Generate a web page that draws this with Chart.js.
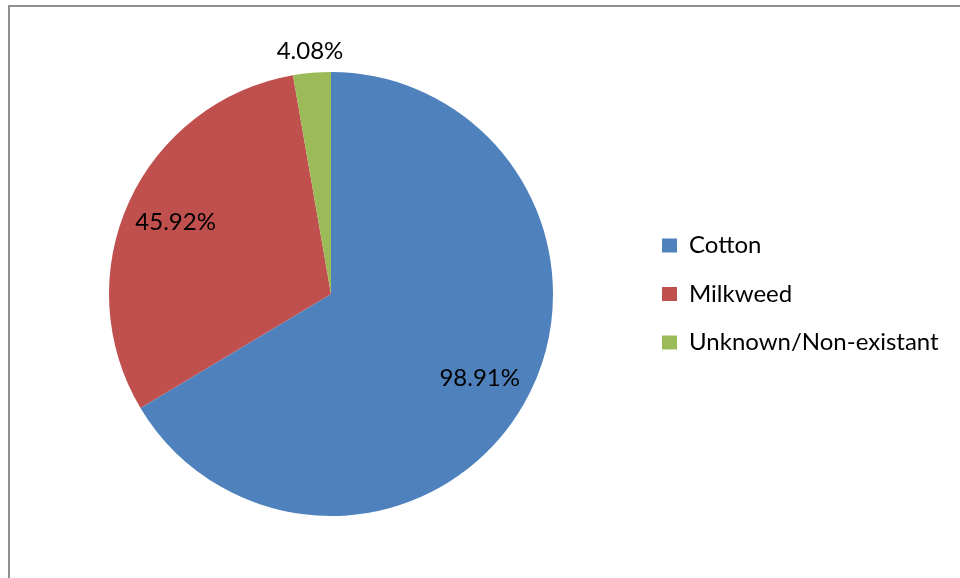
<!DOCTYPE html>
<html>
<head>
<meta charset="utf-8">
<script src="https://cdn.jsdelivr.net/npm/chart.js@4"></script>
<style>
  html, body { margin: 0; padding: 0; background: #fff; }
  #wrap { position: relative; width: 960px; height: 578px; }
</style>
</head>
<body>
<div id="wrap"><canvas id="pieChart" width="960" height="578"></canvas></div>
<script>
// Chart data
const categories = ['Cotton', 'Milkweed', 'Unknown/Non-existant'];
const percentValues = [98.91, 45.92, 4.08];
const sliceColors = ['#4F81BD', '#C0504D', '#9BBB59'];

const FONT = 'Lato';
const FONT_SIZE = 24;
const LEGEND_PAD = 24.5;

/* Draws the grey frame line along the top and left edges */
const framePlugin = {
    id: 'frame',
    beforeDraw: (chart) => {
        const ctx = chart.ctx;
        ctx.save();
        ctx.fillStyle = '#8f8f8f';
        ctx.fillRect(8, 5, 960, 2);
        ctx.fillRect(8, 5, 2, 578);
        ctx.restore();
    }
};

/* Writes the percent labels on (or just outside) each slice */
const sliceLabelPlugin = {
    id: 'sliceLabels',
    afterDatasetsDraw: (chart) => {
        const ctx = chart.ctx;
        const meta = chart.getDatasetMeta(0);
        const total = percentValues.reduce((a, b) => a + b, 0);
        ctx.save();
        ctx.font = FONT_SIZE + 'px ' + FONT;
        ctx.fillStyle = '#000';
        ctx.textAlign = 'center';
        ctx.textBaseline = 'middle';
        meta.data.forEach((arc, i) => {
            const p = arc.getProps(['x', 'y', 'startAngle', 'endAngle', 'outerRadius'], true);
            const mid = (p.startAngle + p.endAngle) / 2;
            let r;
            // Small slices get their label outside the pie
            if (percentValues[i] / total < 0.05) {
                r = p.outerRadius + 22;
            } else {
                r = p.outerRadius * 0.77;
            }
            const x = p.x + Math.cos(mid) * r;
            const y = p.y + Math.sin(mid) * r;
            ctx.fillText(percentValues[i].toFixed(2) + '%', x, y);
        });
        ctx.restore();
    }
};

const buildPieChart = () => {

    // Measure the longest legend label so the legend lands where it should
    const ctx = document.getElementById('pieChart').getContext('2d');
    ctx.font = FONT_SIZE + 'px ' + FONT;
    let maxText = 0;
    categories.forEach((c) => {
        maxText = Math.max(maxText, ctx.measureText(c).width);
    });
    const boxW = 15;
    const legendLeft = 662 - LEGEND_PAD;
    const legendWidth = LEGEND_PAD + boxW + FONT_SIZE / 2 + maxText;
    const padRight = 960 - legendLeft - legendWidth - 10;
    const pieCenterX = 331;
    const padLeft = 2 * pieCenterX - legendLeft;

    const data = {
        labels: categories,
        datasets: [{
            data: percentValues,
            backgroundColor: sliceColors,
            borderWidth: 0
        }]
    };

    const config = {
        type: 'pie',
        data: data,
        options: {
            responsive: false,
            animation: false,
            layout: {
                padding: { left: padLeft, right: padRight, top: 72, bottom: 62 }
            },
            plugins: {
                tooltip: { enabled: false },
                legend: {
                    position: 'right',
                    align: 'center',
                    labels: {
                        boxWidth: boxW,
                        boxHeight: 14,
                        padding: LEGEND_PAD,
                        color: '#000',
                        font: { family: FONT, size: FONT_SIZE }
                    }
                }
            }
        },
        plugins: [framePlugin, sliceLabelPlugin]
    };

    new Chart(ctx, config);
}

document.addEventListener("DOMContentLoaded", () => {
    buildPieChart();
});
</script>
</body>
</html>
